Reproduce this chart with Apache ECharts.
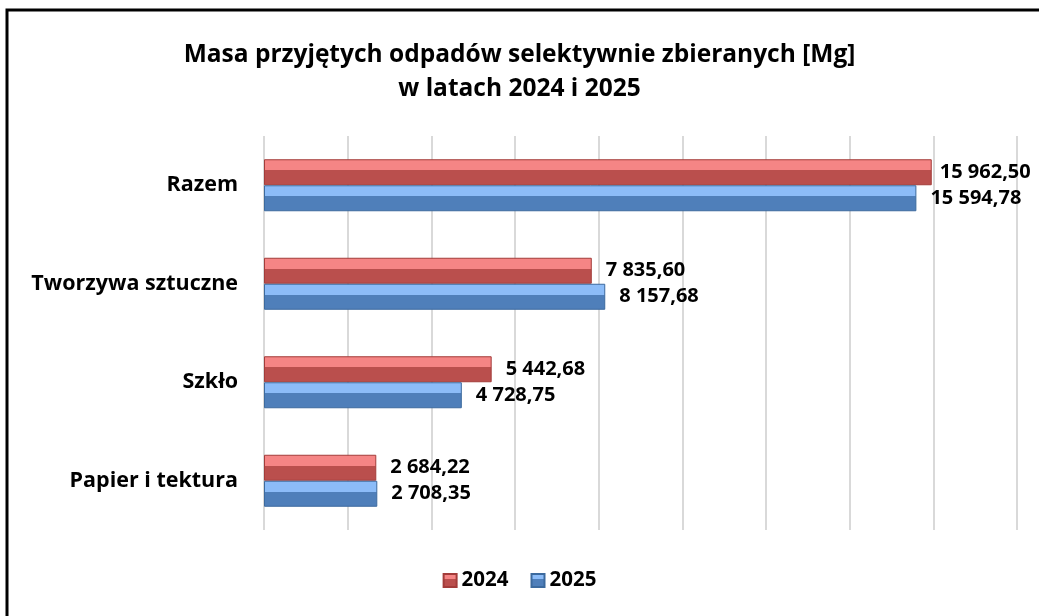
<!DOCTYPE html>
<html>
<head>
<meta charset="utf-8">
<script src="https://cdn.jsdelivr.net/npm/echarts@6/dist/echarts.min.js"></script>
<style>
html,body{margin:0;padding:0;background:#fff;}
#chart{width:1039px;height:616px;}
</style>
</head>
<body>
<div id="chart"></div>
<script>
const categories = ['Papier i tektura', 'Szkło', 'Tworzywa sztuczne', 'Razem'];
const values2024 = [2684.22, 5442.68, 7835.60, 15962.50];
const values2025 = [2708.35, 4728.75, 8157.68, 15594.78];
const seriesNames = ['2024', '2025'];
const titleText = 'Masa przyjętych odpadów selektywnie zbieranych [Mg]\nw latach 2024 i 2025';

function fmt(v) {
  const parts = v.toFixed(2).split('.');
  return parts[0].replace(/\B(?=(\d{3})+(?!\d))/g, ' ') + ',' + parts[1];
}
function bevel(light, dark) {
  return {
    type: 'linear', x: 0, y: 0, x2: 0, y2: 1,
    colorStops: [
      {offset: 0, color: light},
      {offset: 0.42, color: light},
      {offset: 0.42, color: dark},
      {offset: 1, color: dark}
    ]
  };
}
const FONT = 'Open Sans';
const chart = echarts.init(document.getElementById('chart'));
function labelCfg(dist) {
  return {
    show: true, position: 'right', distance: dist,
    fontFamily: FONT, fontWeight: 'bold', fontSize: 20, color: '#000',
    formatter: p => fmt(p.value)
  };
}
const data2024 = values2024.map((v, i) => i === 3 ? {value: v, label: {distance: 8}} : v);
chart.setOption({
  animation: false,
  backgroundColor: '#fff',
  title: {
    text: titleText, left: 'center', top: 33,
    textStyle: {fontFamily: FONT, fontWeight: 'bold', fontSize: 24.5, lineHeight: 34, color: '#000'}
  },
  legend: {
    data: seriesNames, bottom: 20, left: 'center', icon: 'rect',
    itemWidth: 13, itemHeight: 13, itemGap: 22,
    textStyle: {fontFamily: FONT, fontWeight: 'bold', fontSize: 20.5, color: '#000'}
  },
  grid: {left: 264, right: 22, top: 136, bottom: 86, containLabel: false},
  xAxis: {
    type: 'value', min: 0, max: 18000, interval: 2000,
    axisLabel: {show: false}, axisLine: {show: false}, axisTick: {show: false},
    splitLine: {show: true, lineStyle: {color: '#D9D9D9', width: 2}}
  },
  yAxis: {
    type: 'category', data: categories,
    axisLine: {show: false}, axisTick: {show: false},
    axisLabel: {fontFamily: FONT, fontWeight: 'bold', fontSize: 21.5, color: '#000', margin: 26}
  },
  series: [
    {
      name: '2024', type: 'bar', data: data2024, barWidth: 26, barGap: '0%',
      itemStyle: {color: bevel('#F58585', '#BA4F4D'), borderColor: '#A33C3A', borderWidth: 1},
      label: labelCfg(14)
    },
    {
      name: '2025', type: 'bar', data: values2025, barWidth: 26, barGap: '0%',
      itemStyle: {color: bevel('#8CBCF8', '#4F7FBA'), borderColor: '#3C6A9E', borderWidth: 1},
      label: labelCfg(14)
    }
  ],
  graphic: [{
    type: 'rect', silent: true, z: 100,
    shape: {x: 7, y: 10, width: 1300, height: 900},
    style: {fill: 'none', stroke: '#000', lineWidth: 3}
  }]
});
</script>
</body>
</html>
